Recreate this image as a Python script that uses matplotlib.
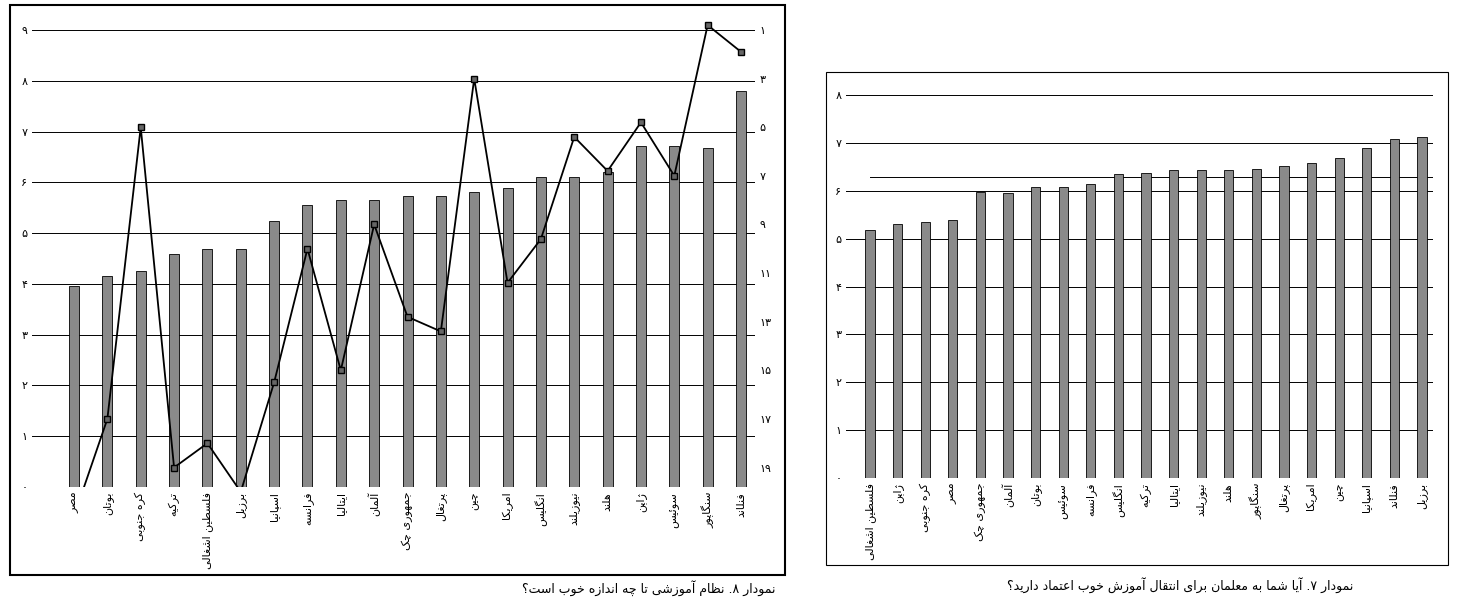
import unicodedata
import matplotlib
matplotlib.use('Agg')
import matplotlib.pyplot as plt
from matplotlib.patches import Rectangle

plt.rcParams['font.family'] = ['DejaVu Sans']

# --- minimal Arabic/Persian shaping (no external libs) ---
FORMS = {}
for cp in list(range(0xFB50, 0xFDFF)) + list(range(0xFE70, 0xFEFF)):
    try: n = unicodedata.name(chr(cp))
    except ValueError: continue
    for f in ('ISOLATED', 'FINAL', 'INITIAL', 'MEDIAL'):
        suf = ' ' + f + ' FORM'
        if n.startswith('ARABIC LETTER ') and n.endswith(suf):
            try: base = unicodedata.lookup(n[:-len(suf)])
            except KeyError: continue
            FORMS.setdefault(base, {}).setdefault(f, chr(cp))

def joins_next(c):
    return c in FORMS and 'INITIAL' in FORMS[c]

def fa(s):
    out = []
    for i, c in enumerate(s):
        if c not in FORMS: out.append(c); continue
        prev = s[i-1] if i > 0 else ''
        nxt = s[i+1] if i+1 < len(s) else ''
        jp = joins_next(prev); jn = joins_next(c) and nxt in FORMS
        f = FORMS[c]
        if jp and jn and 'MEDIAL' in f: out.append(f['MEDIAL'])
        elif jp and 'FINAL' in f: out.append(f['FINAL'])
        elif jn and 'INITIAL' in f: out.append(f['INITIAL'])
        else: out.append(f.get('ISOLATED', c))
    return ''.join(reversed(out))

PD = '۰۱۲۳۴۵۶۷۸۹'
def pnum(n): return ''.join(PD[int(d)] for d in str(n))

# --- data ---
left_countries = ['مصر', 'بوتان', 'کره جنوبی', 'ترکیه', 'فلسطین اشغالی', 'برزیل', 'اسپانیا',
                  'فرانسه', 'ایتالیا', 'آلمان', 'جمهوری چک', 'پرتغال', 'چین', 'امریکا',
                  'انگلیس', 'نیوزیلند', 'هلند', 'ژاپن', 'سوئیس', 'سنگاپور', 'فنلاند']
left_scores = [3.96, 4.15, 4.25, 4.59, 4.69, 4.69, 5.24, 5.55, 5.65, 5.65, 5.73, 5.73,
               5.81, 5.89, 6.10, 6.10, 6.20, 6.71, 6.71, 6.67, 7.81]
left_ranks = [21, 17, 5, 19, 18, 20, 15.5, 10, 15, 9, 12.8, 13.4, 3, 11.4, 9.6, 5.4,
              6.8, 4.8, 7, 0.8, 1.9]

right_countries = ['فلسطین اشغالی', 'ژاپن', 'کره جنوبی', 'مصر', 'جمهوری چک', 'آلمان', 'بوتان',
                   'سوئیس', 'فرانسه', 'انگلیس', 'ترکیه', 'ایتالیا', 'نیوزیلند', 'هلند',
                   'سنگاپور', 'پرتغال', 'امریکا', 'چین', 'اسپانیا', 'فنلاند', 'برزیل']
right_scores = [5.18, 5.30, 5.34, 5.39, 5.97, 5.95, 6.08, 6.08, 6.14, 6.35, 6.37, 6.43,
                6.43, 6.43, 6.45, 6.51, 6.58, 6.68, 6.89, 7.08, 7.12]
right_mean = 6.28

left_caption = 'نمودار ۸. نظام آموزشی تا چه اندازه خوب است؟'
right_caption = 'نمودار ۷. آیا شما به معلمان برای انتقال آموزش خوب اعتماد دارید؟'

W, H = 1462, 606
fig = plt.figure(figsize=(W/100, H/100), dpi=100)
def rect(x0, y0, x1, y1):  # pixel coords -> fig fraction
    return [x0/W, 1-y1/H, (x1-x0)/W, (y1-y0)/H]

fig.patches.append(Rectangle((10/W, 1-575/H), 775/W, 570/H, transform=fig.transFigure,
                             fill=False, lw=1.5, ec='black'))
fig.patches.append(Rectangle((826/W, 1-565/H), 622/W, 493/H, transform=fig.transFigure,
                             fill=False, lw=0.8, ec='black'))

def style(ax):
    for s in ax.spines.values(): s.set_visible(False)
    ax.tick_params(length=0, labelsize=8)

# ---- left chart ----
ax = fig.add_axes(rect(32, 20, 755, 487))
n = len(left_countries)
ax.bar(range(n), left_scores, width=0.3, color='#8a8a8a', edgecolor='black', lw=0.6, zorder=2)
for v in range(10): ax.axhline(v, color='black', lw=0.7, zorder=1)
ax.set_xlim(-1.26, 20.42); ax.set_ylim(0, 9.2)
ax.set_yticks(range(10)); ax.set_yticklabels([pnum(v) for v in range(10)])
ax.set_xticks(range(n)); ax.set_xticklabels([fa(c) for c in left_countries], rotation=90, va='top', fontsize=8)
style(ax)
ax2 = ax.twinx()
ax2.plot(range(n), left_ranks, color='black', lw=1.3, marker='s', ms=5, mfc='#666666', mec='black', zorder=3)
ax2.set_ylim(19.8, 0.59)
rt = list(range(1, 20, 2))
ax2.set_yticks(rt); ax2.set_yticklabels([pnum(v) for v in rt])
style(ax2)
fig.text(775/W, 1-588/H, fa(left_caption), ha='right', va='center', fontsize=9)

# ---- right chart ----
bx = fig.add_axes(rect(846, 85, 1433, 478))
m = len(right_countries)
bx.bar(range(m), right_scores, width=0.33, color='#8a8a8a', edgecolor='black', lw=0.6, zorder=2)
for v in range(9): bx.axhline(v, color='black', lw=0.7, zorder=1)
bx.plot([-0.0, 20.4], [right_mean, right_mean], color='black', lw=0.7, zorder=1)
bx.set_xlim(-0.87, 20.4); bx.set_ylim(0, 8.21)
bx.set_yticks(range(9)); bx.set_yticklabels([pnum(v) for v in range(9)])
bx.set_xticks(range(m)); bx.set_xticklabels([fa(c) for c in right_countries], rotation=90, va='top', fontsize=8)
style(bx)
fig.text(1180/W, 1-585/H, fa(right_caption), ha='center', va='center', fontsize=9)

fig.savefig('out.png', dpi=100)
